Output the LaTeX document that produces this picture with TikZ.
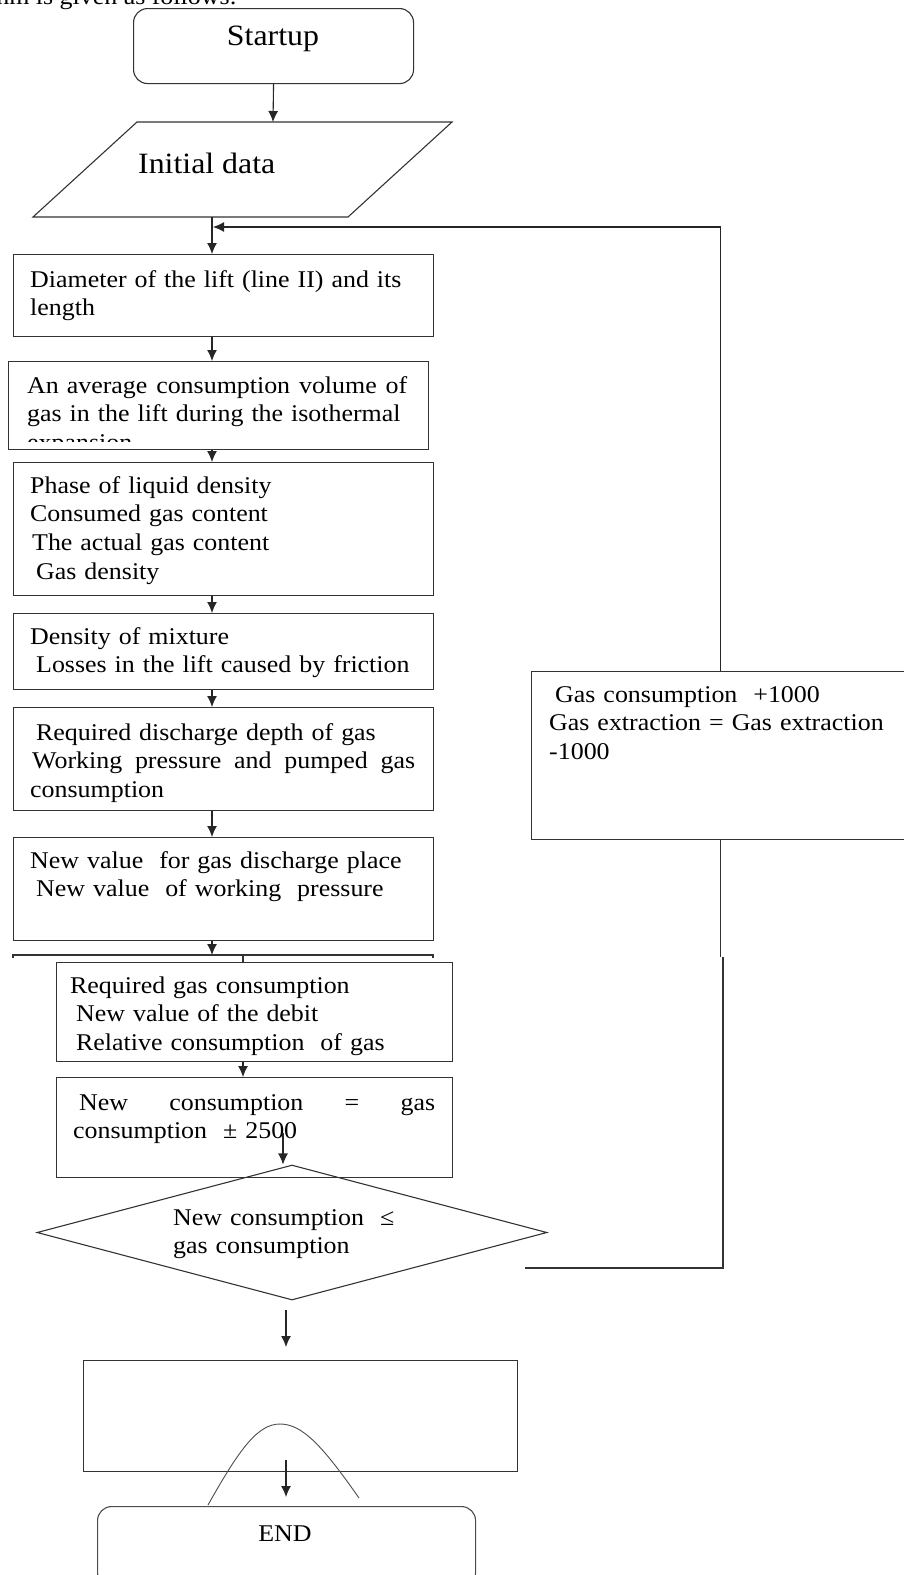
\documentclass[tikz,border=0pt]{standalone}
\usepackage{fontspec}
\setmainfont{Liberation Serif}[FakeStretch=1.08]
\usepackage{tikz}
\usetikzlibrary{shapes.geometric,arrows.meta}

\newcommand{\jline}[2]{\leavevmode\hbox to #1{#2}}
\newcommand{\lsp}{\hspace*{.25em}}

\begin{document}
\begin{tikzpicture}[x=1pt,y=-1pt,
      box/.style={draw=black!80,line width=1.1pt,rectangle,inner sep=0pt,anchor=north west},
      term/.style={box,rounded corners=14pt},
      txt/.style={inner sep=0pt,anchor=base west,align=left,font={\fontsize{24}{28.8}\selectfont}},
      big/.style={inner sep=0pt,font={\fontsize{29.5}{34}\selectfont}},
      arr/.style={-{Latex[length=11pt,width=10pt]},line width=1.1pt,black!85},
      wire/.style={line width=1.1pt,black!80}]
      \useasboundingbox (0,0) rectangle (904,1575);
      \clip (0,0) rectangle (904,1575);
      \node[txt,anchor=base east] (head) at (237,4) {algorithm is given as follows:};

      % boxes
      \node[term,minimum width=280pt,minimum height=75pt] (start) at (133,8) {};
      \coordinate (inittop) at (273,122);
      \coordinate (initbot) at (212,217);
      \draw[wire] (137,122) -- (452,122) -- (348,217) -- (33,217) -- cycle;
      \node[box,minimum width=420pt,minimum height=82pt] (dia) at (13,254) {};
      \node[box,minimum width=420pt,minimum height=88pt] (avg) at (8,361) {};
      \node[box,minimum width=420pt,minimum height=133pt] (phase) at (13,462) {};
      \node[box,minimum width=420pt,minimum height=76pt] (dens) at (13,613) {};
      \node[box,minimum width=420pt,minimum height=103pt] (depth) at (13,707) {};
      \node[box,minimum width=420pt,minimum height=103pt] (newval) at (13,837) {};
      \node[box,minimum width=396pt,minimum height=99pt] (req) at (56,962) {};
      \node[box,minimum width=396pt,minimum height=100pt] (newcons) at (56,1077) {};
      \node[draw=black!80,line width=1.1pt,diamond,inner sep=0pt,
            minimum width=510pt,minimum height=135pt] (dec) at (292,1232.5) {};
      \node[box,minimum width=434pt,minimum height=111pt] (result) at (83,1360) {};
      \node[term,draw=black!70,minimum width=378pt,minimum height=80pt] (stop) at (97,1506) {};
      \node[box,minimum width=377pt,minimum height=168pt] (gas) at (531,671) {};

      % texts
      \node[big,anchor=base] (tstart) at (273,45) {Startup};
      \node[big,anchor=base west] (tinit) at (138,173) {Initial data};
      \node[txt,text width=400pt] (tdia) at (30,287)
        {Diameter of the lift (line II) and its\\ length};
      \begin{scope}
        \clip (8,361) rectangle (428,441);
        \node[txt,text width=390pt] (tavg) at (27,393)
          {\jline{380pt}{An average\hfill consumption\hfill volume\hfill of}\\
           gas in the lift during the isothermal\\ expansion};
      \end{scope}
      \node[txt,text width=400pt] (tphase) at (30,493)
        {Phase of liquid density\\ Consumed gas content\\
         \hspace*{2pt}The actual gas content\\ \lsp Gas density};
      \node[txt,text width=400pt] (tdens) at (30,644)
        {Density of mixture\\ \lsp Losses in the lift caused by friction};
      \node[txt,text width=395pt] (tdepth) at (30,740)
        {\lsp Required discharge depth of gas\\
         \jline{385pt}{\hspace*{2pt}Working\hfill pressure\hfill and\hfill pumped\hfill gas}\\
         consumption};
      \node[txt,text width=400pt] (tnewval) at (30,868)
        {New value\ \ for gas discharge place\\
         \lsp New value\ \ of working\ \ pressure};
      \node[txt,text width=370pt] (treq) at (70,993)
        {Required gas consumption\\ \lsp New value of the debit\\
         \lsp Relative consumption\ \ of gas};
      \node[txt,text width=370pt] (tnewcons) at (73,1110)
        {\jline{362pt}{\lsp New\hfill consumption\hfill =\hfill gas}\\ consumption\ \ ± 2500};
      \node[txt,text width=300pt] (tdec) at (173,1225)
        {New consumption\ \ ≤\\ gas consumption};
      \node[txt,text width=345pt] (tgas) at (549,702)
        {\lsp Gas consumption\ \ +1000\\ Gas extraction = Gas extraction\\ -1000};
      \node[txt,anchor=base] (tstop) at (285,1541) {END};

      % connectors
      \coordinate (axis) at (212,0);
      \coordinate (axisb) at (243,0);
      \coordinate (loop) at (213,227);
      \coordinate (hid) at (212,955);
      \coordinate (tail) at (283,1133);
      \coordinate (ret) at (525,1268);
      \coordinate (jog) at (723,957);
      \coordinate (outa) at (286,1310);
      \coordinate (outb) at (286,1347);
      \coordinate (fina) at (286,1460);
      \coordinate (finb) at (286,1497);

      \draw[arr] (start.south) -- (inittop);
      \draw[arr] (initbot) -- (dia.north -| axis);
      \draw[arr] (gas.north) |- (loop);
      \foreach \a/\b in {dia/avg,avg/phase,phase/dens,dens/depth,depth/newval}
        \draw[arr] (\a.south -| axis) -- (\b.north -| axis);
      \draw[arr] (newval.south -| axis) -- (hid);
      \draw[wire] (13,958) -- (13,955) -- (433,955) -- (433,958);
      \draw[wire] (hid -| axisb) -- (req.north -| axisb);
      \draw[arr] (req.south -| axisb) -- (newcons.north -| axisb);
      \draw[arr] (tail) -- (tail |- dec.north);
      \draw[wire] (ret) -| (jog);
      \draw[wire] (jog -| gas.south) -- (gas.south);
      \draw[arr] (outa) -- (outb);
      \draw[line width=0.9pt,black!70] (208,1505) .. controls (240,1448) and (258,1424) .. (280,1424)
        .. controls (302,1424) and (322,1445) .. (359,1498);
      \draw[arr] (fina) -- (finb);
      % \noindent
\end{tikzpicture}
\end{document}
